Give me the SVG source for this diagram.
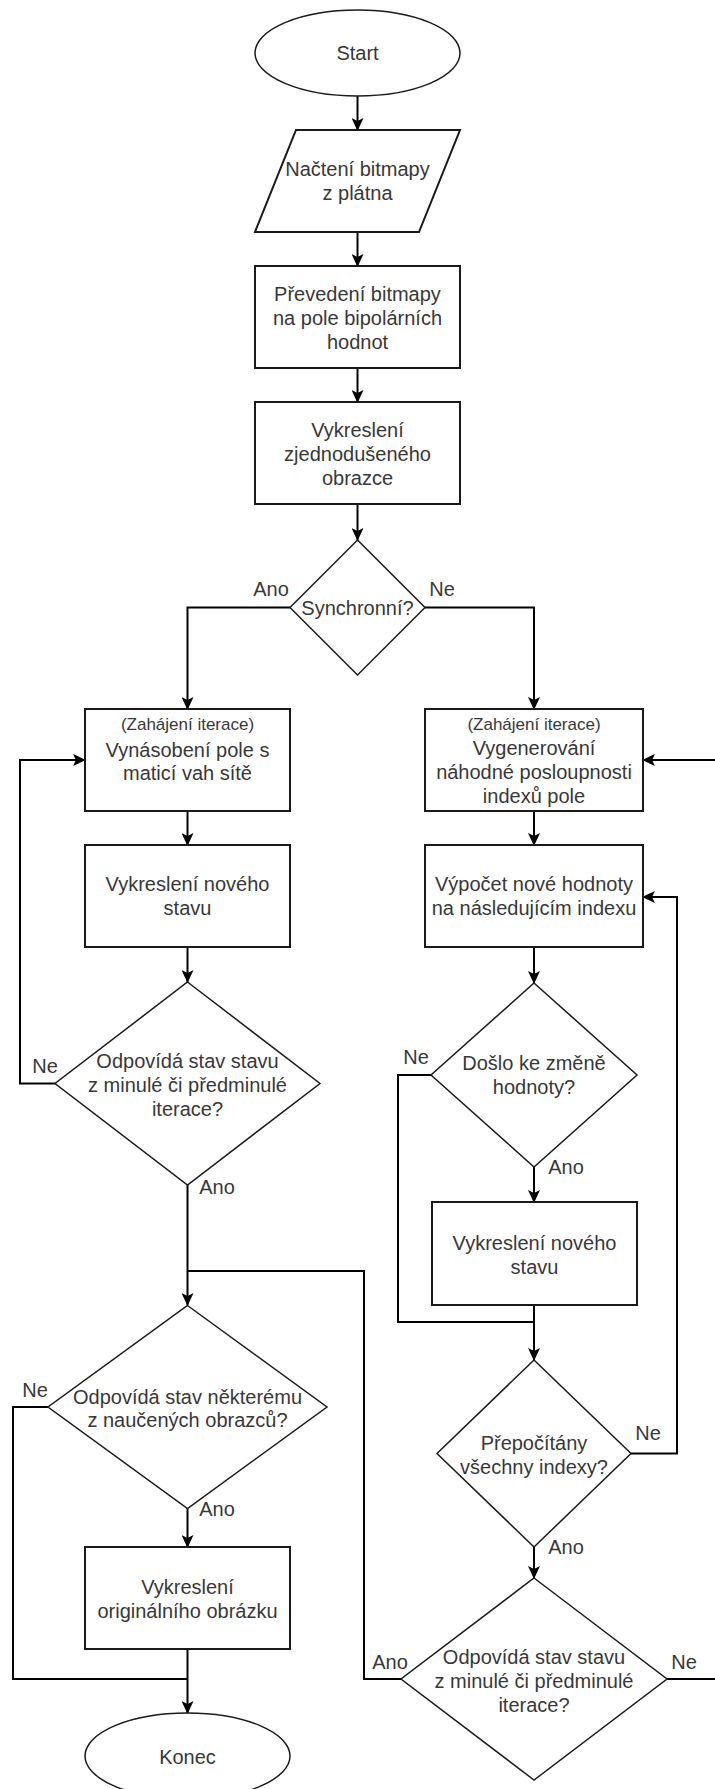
<svg xmlns="http://www.w3.org/2000/svg" width="715" height="1789" viewBox="0 0 715 1789">
<style>
.bg{fill:#ffffff}
.box{fill:#ffffff;stroke:#1a1a1a;stroke-width:2}
.dia{fill:#ffffff;stroke:#1a1a1a;stroke-width:1.5}
.ell{fill:#ffffff;stroke:#1a1a1a;stroke-width:1.5}
.con{fill:none;stroke:#000000;stroke-width:2}
.arr{marker-end:url(#ah)}
text{font-family:"Liberation Sans",Arial,Helvetica,sans-serif;font-size:20px;fill:#383838;text-anchor:middle}
.sm{font-size:17px}
.lbl{font-size:20px}
</style>
<defs>
<marker id="ah" viewBox="0 0 13 12" refX="12" refY="6" markerWidth="13" markerHeight="12" markerUnits="userSpaceOnUse" orient="auto">
<path d="M0,0 L13,6 L0,12 L3,6 Z" fill="#000000"/>
</marker>
</defs>
<rect class="bg" x="0" y="0" width="715" height="1789"/>

<g id="connectors">
<path class="con arr" d="M357.5,96 L357.5,130"/>
<path class="con arr" d="M357.5,232 L357.5,266"/>
<path class="con arr" d="M357.5,368 L357.5,402"/>
<path class="con arr" d="M357.5,504 L357.5,540"/>
<path class="con arr" d="M290,607.5 L187.5,607.5 L187.5,709"/>
<path class="con arr" d="M425,607.5 L534,607.5 L534,709"/>
<path class="con arr" d="M187.5,811 L187.5,845"/>
<path class="con arr" d="M534,811 L534,845"/>
<path class="con arr" d="M187.5,947 L187.5,982"/>
<path class="con arr" d="M534,947 L534,983"/>
<path class="con arr" d="M55,1083.5 L20,1083.5 L20,760 L85,760"/>
<path class="con arr" d="M187.5,1185 L187.5,1305"/>
<path class="con" d="M431,1075 L398,1075 L398,1322 L534,1322"/>
<path class="con arr" d="M534,1167 L534,1202"/>
<path class="con arr" d="M534,1305 L534,1360"/>
<path class="con arr" d="M631,1453.5 L677,1453.5 L677,897 L643,897"/>
<path class="con arr" d="M534,1547 L534,1578"/>
<path class="con" d="M401,1679 L364,1679 L364,1271 L187.5,1271"/>
<path class="con arr" d="M667,1679 L716,1679 L716,760 L643,760"/>
<path class="con" d="M48,1407 L13,1407 L13,1679 L187.5,1679"/>
<path class="con arr" d="M187.5,1508.5 L187.5,1547"/>
<path class="con arr" d="M187.5,1649 L187.5,1713"/>
<text class="lbl" x="271" y="596">Ano</text>
<text class="lbl" x="442" y="596">Ne</text>
<text class="lbl" x="45" y="1073">Ne</text>
<text class="lbl" x="217" y="1194">Ano</text>
<text class="lbl" x="416" y="1064">Ne</text>
<text class="lbl" x="566" y="1174">Ano</text>
<text class="lbl" x="648" y="1440">Ne</text>
<text class="lbl" x="566" y="1554">Ano</text>
<text class="lbl" x="390" y="1669">Ano</text>
<text class="lbl" x="684" y="1669">Ne</text>
<text class="lbl" x="35" y="1397">Ne</text>
<text class="lbl" x="217" y="1516">Ano</text>
</g>

<g id="start">
<ellipse class="ell" cx="357.5" cy="53" rx="102.5" ry="43"/>
<text x="357.5" y="60">Start</text>
</g>

<g id="nacteni">
<polygon class="box" points="296,130 460,130 419,232 255,232"/>
<text x="357.5" y="176">Načtení bitmapy</text>
<text x="357.5" y="200">z plátna</text>
</g>

<g id="prevedeni">
<rect class="box" x="255" y="266" width="205" height="102"/>
<text x="357.5" y="301">Převedení bitmapy</text>
<text x="357.5" y="325">na pole bipolárních</text>
<text x="357.5" y="349">hodnot</text>
</g>

<g id="vykresleni-zjednoduseneho">
<rect class="box" x="255" y="402" width="205" height="102"/>
<text x="357.5" y="437">Vykreslení</text>
<text x="357.5" y="461">zjednodušeného</text>
<text x="357.5" y="485">obrazce</text>
</g>

<g id="synchronni">
<polygon class="dia" points="357.5,540 425,607.5 357.5,675 290,607.5"/>
<text x="357.5" y="615">Synchronní?</text>
</g>

<g id="vynasobeni">
<rect class="box" x="85" y="709" width="205" height="102"/>
<text class="sm" x="187.5" y="730">(Zahájení iterace)</text>
<text x="187.5" y="757">Vynásobení pole s</text>
<text x="187.5" y="780">maticí vah sítě</text>
</g>

<g id="vygenerovani">
<rect class="box" x="425" y="709" width="218" height="102"/>
<text class="sm" x="534" y="730">(Zahájení iterace)</text>
<text x="534" y="755">Vygenerování</text>
<text x="534" y="779">náhodné posloupnosti</text>
<text x="534" y="803">indexů pole</text>
</g>

<g id="vykresleni-noveho-l">
<rect class="box" x="85" y="845" width="205" height="102"/>
<text x="187.5" y="891">Vykreslení nového</text>
<text x="187.5" y="915">stavu</text>
</g>

<g id="vypocet">
<rect class="box" x="425" y="845" width="218" height="102"/>
<text x="534" y="891">Výpočet nové hodnoty</text>
<text x="534" y="915">na následujícím indexu</text>
</g>

<g id="odpovida-l">
<polygon class="dia" points="187.5,982 320,1083.5 187.5,1185 55,1083.5"/>
<text x="187.5" y="1068">Odpovídá stav stavu</text>
<text x="187.5" y="1092">z minulé či předminulé</text>
<text x="187.5" y="1116">iterace?</text>
</g>

<g id="doslo">
<polygon class="dia" points="534,983 637,1075 534,1167 431,1075"/>
<text x="534" y="1070">Došlo ke změně</text>
<text x="534" y="1094">hodnoty?</text>
</g>

<g id="vykresleni-noveho-r">
<rect class="box" x="432" y="1202" width="205" height="103"/>
<text x="534.5" y="1250">Vykreslení nového</text>
<text x="534.5" y="1274">stavu</text>
</g>

<g id="prepocitany">
<polygon class="dia" points="534,1360 631,1453.5 534,1547 437,1453.5"/>
<text x="534" y="1450">Přepočítány</text>
<text x="534" y="1474">všechny indexy?</text>
</g>

<g id="odpovida-r">
<polygon class="dia" points="534,1578 667,1679 534,1780 401,1679"/>
<text x="534" y="1664">Odpovídá stav stavu</text>
<text x="534" y="1688">z minulé či předminulé</text>
<text x="534" y="1712">iterace?</text>
</g>

<g id="odpovida-nekteremu">
<polygon class="dia" points="187.5,1305.5 327,1407 187.5,1508.5 48,1407"/>
<text x="187.5" y="1404">Odpovídá stav některému</text>
<text x="187.5" y="1427">z naučených obrazců?</text>
</g>

<g id="vykresleni-originalniho">
<rect class="box" x="85" y="1547" width="205" height="102"/>
<text x="187.5" y="1594">Vykreslení</text>
<text x="187.5" y="1618">originálního obrázku</text>
</g>

<g id="konec">
<ellipse class="ell" cx="187.5" cy="1756" rx="102.5" ry="43"/>
<text x="187.5" y="1764">Konec</text>
</g>
</svg>
